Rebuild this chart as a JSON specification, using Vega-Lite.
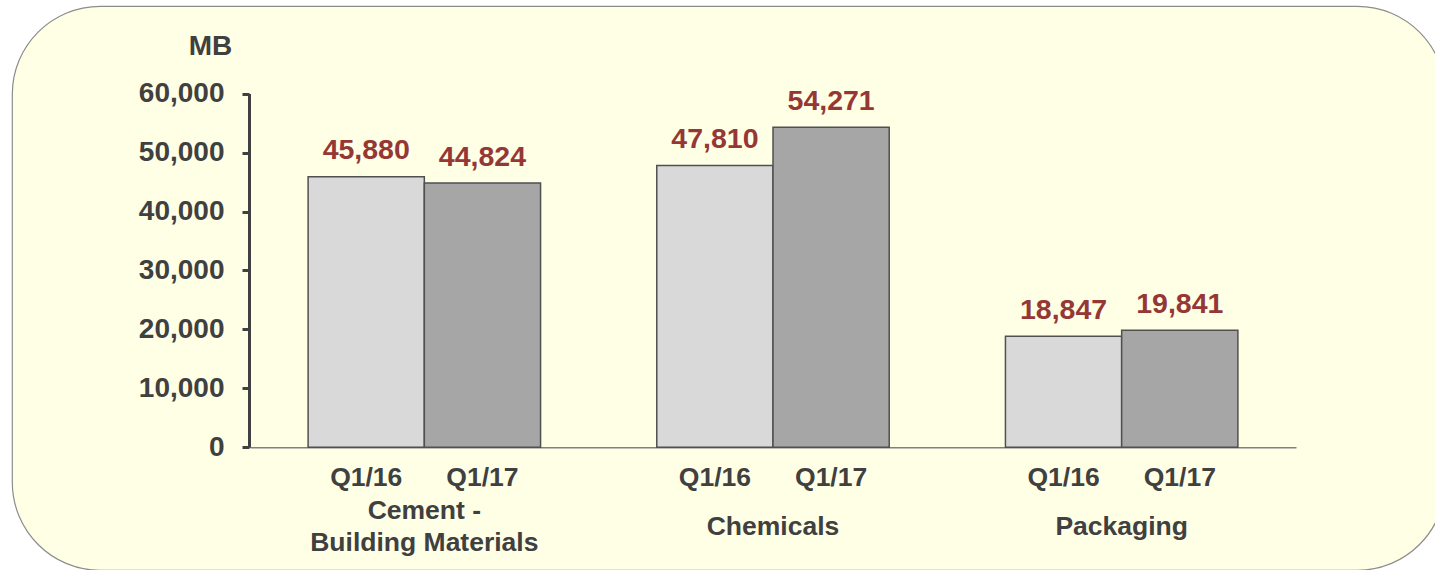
{
  "$schema": "https://vega.github.io/schema/vega-lite/v6.json",
  "width": 1433,
  "height": 564,
  "autosize": {"type": "none"},
  "padding": {"left": 12, "top": 6, "right": 0, "bottom": 0},
  "background": "#ffffff",
  "config": {
    "view": {"fill": "#FFFFE6", "stroke": "#8C8C8C", "strokeWidth": 1.2, "cornerRadius": 88},
    "font": "Liberation Sans"
  },
  "data": {
    "values": [
      {"segment": "Cement - Building Materials", "period": "Q1/16", "value": 45880},
      {"segment": "Cement - Building Materials", "period": "Q1/17", "value": 44824},
      {"segment": "Chemicals", "period": "Q1/16", "value": 47810},
      {"segment": "Chemicals", "period": "Q1/17", "value": 54271},
      {"segment": "Packaging", "period": "Q1/16", "value": 18847},
      {"segment": "Packaging", "period": "Q1/17", "value": 19841}
    ]
  },
  "encoding": {
    "x": {
      "field": "segment",
      "type": "nominal",
      "sort": null,
      "scale": {"range": [238, 1284], "paddingInner": 0, "paddingOuter": 0},
      "axis": {
        "title": null,
        "orient": "bottom",
        "offset": -122.7,
        "ticks": false,
        "domainColor": "#808080",
        "domainWidth": 1.5,
        "labelAngle": 0,
        "labelFont": "Liberation Sans",
        "labelFontSize": 26.5,
        "labelFontWeight": "bold",
        "labelColor": "#404040",
        "labelBaseline": "middle",
        "labelLineHeight": 32,
        "labelPadding": {"condition": {"test": "datum.value == 'Cement - Building Materials'", "value": 63}, "value": 79},
        "labelLimit": 600,
        "labelOverlap": false,
        "labelExpr": "datum.value == 'Cement - Building Materials' ? ['Cement -', 'Building Materials'] : datum.value"
      }
    },
    "xOffset": {
      "field": "period",
      "type": "nominal",
      "sort": null,
      "scale": {"paddingInner": 0, "paddingOuter": 0.5}
    },
    "y": {
      "field": "value",
      "type": "quantitative",
      "scale": {"domain": [0, 60000], "range": [441.3, 87.6], "nice": false, "zero": true},
      "axis": {
        "title": "MB",
        "titleAngle": 0,
        "titleX": -39,
        "titleY": 40.5,
        "titleAlign": "center",
        "titleBaseline": "middle",
        "titleFont": "Liberation Sans",
        "titleFontSize": 28,
        "titleFontWeight": "bold",
        "titleColor": "#404040",
        "values": [0, 10000, 20000, 30000, 40000, 50000, 60000],
        "format": ",.0f",
        "labelFont": "Liberation Sans",
        "labelFontSize": 28,
        "labelFontWeight": "bold",
        "labelColor": "#404040",
        "labelPadding": 18,
        "tickSize": 7,
        "tickWidth": 3,
        "tickColor": "#404040",
        "domainColor": "#404040",
        "domainWidth": 3,
        "grid": false,
        "offset": -237
      }
    }
  },
  "layer": [
    {
      "mark": {"type": "bar", "stroke": "#505050", "strokeWidth": 1.5},
      "encoding": {
        "color": {
          "field": "period",
          "type": "nominal",
          "scale": {"domain": ["Q1/16", "Q1/17"], "range": ["#D9D9D9", "#A6A6A6"]},
          "legend": null
        }
      }
    },
    {
      "mark": {"type": "text", "dy": -17.5, "baseline": "alphabetic", "fontSize": 28.5, "fontWeight": "bold", "color": "#953735", "font": "Liberation Sans"},
      "encoding": {
        "text": {"field": "value", "type": "quantitative", "format": ","}
      }
    },
    {
      "mark": {"type": "text", "dy": 38.7, "baseline": "alphabetic", "fontSize": 26.5, "fontWeight": "bold", "color": "#404040", "font": "Liberation Sans"},
      "encoding": {
        "y": {"datum": 0},
        "text": {"field": "period", "type": "nominal"}
      }
    }
  ]
}
